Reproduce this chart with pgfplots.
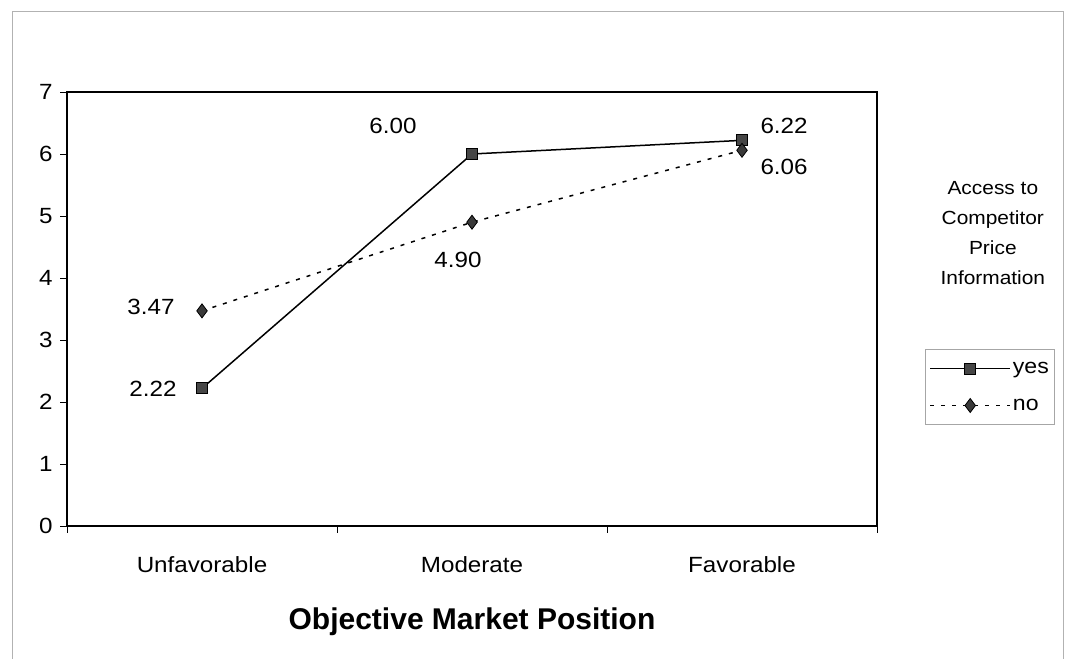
\documentclass[border=0pt]{standalone}
\usepackage{fontspec}
\setmainfont[FakeStretch=1.1]{Liberation Sans}
\newfontfamily\titlefont{Liberation Sans}
\usepackage{pgfplots}
\pgfplotsset{compat=1.18}
\begin{document}
\begin{tikzpicture}[x=1bp,y=1bp]
\useasboundingbox (0,0) rectangle (1065,659);
\draw[gray!60, line width=0.8bp] (12,-2) -- (12,648) -- (1063,648) -- (1063,-2);
\begin{axis}[
  at={(67bp,133bp)}, anchor=south west,
  scale only axis, width=810bp, height=434bp,
  xmin=0, xmax=3, ymin=0, ymax=7,
  ytick={0,1,2,3,4,5,6,7},
  xtick={0,1,2,3},
  x tick label as interval=true,
  xticklabels={Unfavorable,Moderate,Favorable,{}},
  xtick pos=bottom, ytick pos=left,
  tick align=outside, major tick length=7bp,
  tick style={black, line width=0.8bp},
  axis line style={black, line width=1.4bp},
  /pgf/number format/assume math mode=true,
  tick label style={font=\fontsize{22bp}{26bp}\selectfont},
  yticklabel style={xshift=-4bp},
  xticklabel style={yshift=-20bp},
  xlabel={Objective Market Position},
  xlabel style={font=\titlefont\fontsize{30bp}{34bp}\selectfont\bfseries, yshift=-28bp},
  legend style={at={(rel axis cs:1.0593,0.408)}, anchor=north west,
    draw=gray!70, line width=0.8bp, font=\fontsize{21bp}{24bp}\selectfont,
    inner xsep=4bp, inner ysep=11bp, row sep=20bp,
    nodes={inner xsep=2bp}},
  legend cell align=left,
  legend image code/.code={\draw[mark repeat=2,mark phase=2,#1] plot coordinates {(0bp,0bp)(40bp,0bp)(80bp,0bp)};},
  clip=false,
]
\addplot[black, line width=1.5bp, mark=square*,
  mark options={fill=gray!55!black, draw=black, solid, mark size=5.5bp, line width=0.8bp}]
  coordinates {(0.5,2.22) (1.5,6.00) (2.5,6.22)};
\addlegendentry{yes}
\addplot[black, line width=1.5bp, dash pattern=on 4bp off 7bp, mark=diamond*,
  mark options={fill=gray!45!black, draw=black, solid, mark size=7bp, line width=0.8bp}]
  coordinates {(0.5,3.47) (1.5,4.90) (2.5,6.06)};
\addlegendentry{no}
\begin{scope}[font=\fontsize{22bp}{26bp}\selectfont]
\node[anchor=east, xshift=-22bp] at (axis cs:0.5,2.22) {2.22};
\node[anchor=east, xshift=-24bp, yshift=4bp] at (axis cs:0.5,3.47) {3.47};
\node[anchor=east, xshift=-52bp, yshift=28bp] at (axis cs:1.5,6.00) {6.00};
\node[xshift=-14bp, yshift=-38bp] at (axis cs:1.5,4.90) {4.90};
\node[anchor=west, xshift=15bp, yshift=14bp] at (axis cs:2.5,6.22) {6.22};
\node[anchor=west, xshift=15bp, yshift=-17bp] at (axis cs:2.5,6.06) {6.06};
\end{scope}
\node[align=center, font=\fontsize{19bp}{30bp}\selectfont] at (rel axis cs:1.143,0.675)
  {Access to\\Competitor\\Price\\Information};
\end{axis}
\end{tikzpicture}
\end{document}
